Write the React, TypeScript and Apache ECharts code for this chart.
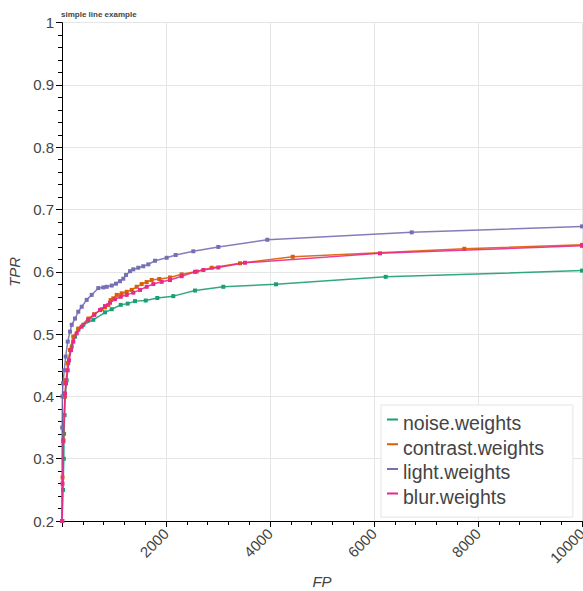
import React, { useEffect, useRef } from "react";
import * as echarts from "echarts";

const seriesNames = ["noise.weights", "contrast.weights", "light.weights", "blur.weights"];
const seriesColors = ["#1b9e77", "#d95f02", "#7570b3", "#e7298a"];

const noiseFP = [3, 20, 35, 40, 50, 58, 90, 121, 187, 250, 313, 410, 602, 827, 956, 1129, 1263, 1404, 1610, 1833, 2140, 2558, 3102, 4115, 6225, 10000];
const noiseTPR = [0.2, 0.25, 0.3, 0.34, 0.37, 0.4, 0.426, 0.454, 0.48, 0.496, 0.507, 0.515, 0.523, 0.535, 0.54, 0.547, 0.549, 0.553, 0.554, 0.558, 0.561, 0.57, 0.576, 0.58, 0.592, 0.602];

const contrastFP = [3, 10, 25, 58, 77, 110, 154, 217, 313, 506, 620, 763, 827, 890, 936, 987, 1052, 1148, 1244, 1340, 1436, 1532, 1628, 1725, 1871, 2077, 2301, 2590, 2879, 3423, 4437, 7737, 10000];
const contrastTPR = [0.2, 0.27, 0.33, 0.4, 0.426, 0.453, 0.4745, 0.496, 0.509, 0.525, 0.532, 0.54, 0.543, 0.5467, 0.5547, 0.5575, 0.563, 0.5655, 0.568, 0.571, 0.576, 0.5804, 0.5836, 0.587, 0.5885, 0.591, 0.596, 0.6005, 0.6066, 0.6137, 0.6242, 0.637, 0.6434];

const lightFP = [1, 3, 8, 19, 44, 71, 110, 154, 187, 250, 313, 379, 475, 571, 698, 794, 860, 956, 1038, 1115, 1179, 1231, 1308, 1371, 1467, 1563, 1660, 1788, 2013, 2186, 2525, 3006, 3948, 6725, 10000];
const lightTPR = [0.2, 0.35, 0.4, 0.421, 0.442, 0.464, 0.488, 0.504, 0.515, 0.525, 0.536, 0.544, 0.555, 0.563, 0.574, 0.575, 0.576, 0.578, 0.581, 0.585, 0.589, 0.595, 0.601, 0.604, 0.6066, 0.609, 0.612, 0.6178, 0.6226, 0.627, 0.633, 0.64, 0.6515, 0.6634, 0.673];

const blurFP = [3, 10, 25, 58, 77, 110, 135, 173, 217, 283, 379, 506, 620, 731, 827, 923, 1019, 1129, 1244, 1371, 1500, 1628, 1756, 1917, 2077, 2301, 2558, 2718, 3006, 3519, 6115, 10000];
const blurTPR = [0.2, 0.26, 0.328, 0.405, 0.421, 0.442, 0.458, 0.4745, 0.488, 0.5013, 0.512, 0.5226, 0.531, 0.5387, 0.545, 0.5504, 0.556, 0.56, 0.563, 0.5666, 0.571, 0.576, 0.5804, 0.584, 0.5868, 0.593, 0.6, 0.603, 0.607, 0.6146, 0.6297, 0.6418];

const xTicks = { min: 0, max: 10000, interval: 2000 };
const yTicks = { min: 0.2, max: 1, interval: 0.1 };

const allFP = [noiseFP, contrastFP, lightFP, blurFP];
const allTPR = [noiseTPR, contrastTPR, lightTPR, blurTPR];

const FONT = "'Liberation Sans', Arial, Helvetica, sans-serif";

export default function App() {
  const ref = useRef<HTMLDivElement>(null);
  useEffect(() => {
    document.body.style.margin = "0";
    if (!ref.current) return;
    const chart = echarts.init(ref.current, undefined, { renderer: "svg" });
    const series = seriesNames.map((name, i) => ({
      name,
      type: "line",
      data: allFP[i].map((x, j) => [x, allTPR[i][j]]),
      symbol: "rect",
      symbolSize: 4,
      showSymbol: true,
      clip: true,
      lineStyle: { width: 1.5, color: seriesColors[i], opacity: 0.9 },
      itemStyle: { color: seriesColors[i] },
      emphasis: { disabled: true },
      z: 2 + i,
    }));
    chart.setOption({
      animation: false,
      title: {
        text: "simple line example",
        left: 61,
        top: 10,
        padding: 0,
        textStyle: { fontSize: 8, fontWeight: "bold", color: "#444", fontFamily: FONT },
      },
      grid: { left: 62, right: 1, top: 22.7, bottom: 70, containLabel: false, outerBoundsMode: "none" },
      legend: {
        data: seriesNames,
        orient: "vertical",
        left: 381,
        top: 405,
        backgroundColor: "#fff",
        borderColor: "#e5e5e5",
        borderWidth: 1,
        padding: [8, 29, 10, 6],
        itemGap: 4.7,
        itemWidth: 11,
        itemHeight: 9,
        icon: "path://M0,0h11v2h-11z M0,9h0.01v0.01h-0.01z",
        selectedMode: false,
        textStyle: { fontSize: 19.5, lineHeight: 20, color: "#444", fontFamily: FONT },
      },
      xAxis: {
        type: "value",
        min: xTicks.min,
        max: xTicks.max,
        interval: xTicks.interval,
        name: "FP",
        nameLocation: "middle",
        nameGap: 53,
        nameTextStyle: { fontSize: 15, fontStyle: "italic", color: "#444", fontFamily: FONT },
        axisLine: { show: true, lineStyle: { color: "#000", width: 1 } },
        axisTick: { show: true, length: 6, lineStyle: { color: "#000" } },
        minorTick: { show: true, splitNumber: 5, length: 4, lineStyle: { color: "#000" } },
        splitLine: { show: true, lineStyle: { color: "#e5e5e5", width: 1 } },
        axisLabel: {
          rotate: 45,
          margin: 10,
          fontSize: 15,
          color: "#444",
          fontFamily: FONT,
          hideOverlap: false,
          formatter: (v: number) => (v === 0 ? "" : String(v)),
        },
      },
      yAxis: {
        type: "value",
        min: yTicks.min,
        max: yTicks.max,
        interval: yTicks.interval,
        name: "TPR",
        nameLocation: "middle",
        nameGap: 38,
        nameTextStyle: { fontSize: 15, fontStyle: "italic", color: "#444", fontFamily: FONT },
        axisLine: { show: true, lineStyle: { color: "#000", width: 1 } },
        axisTick: { show: true, length: 6, lineStyle: { color: "#000" } },
        minorTick: { show: true, splitNumber: 5, length: 4, lineStyle: { color: "#000" } },
        splitLine: { show: true, lineStyle: { color: "#e5e5e5", width: 1 } },
        axisLabel: {
          margin: 8,
          fontSize: 15,
          color: "#444",
          fontFamily: FONT,
          formatter: (v: number) => String(parseFloat(v.toFixed(1))),
        },
      },
      series,
    });
    return () => chart.dispose();
  }, []);
  return <div ref={ref} style={{ width: 583, height: 591 }} />;
}
